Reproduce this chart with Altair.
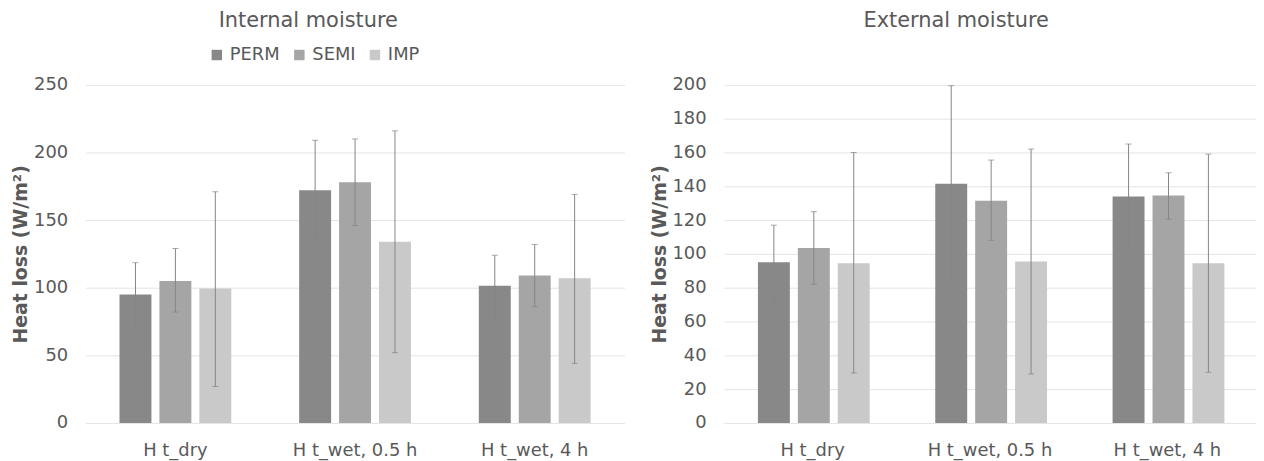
import altair as alt
import pandas as pd

categories = ["H t_dry", "H t_wet, 0.5 h", "H t_wet, 4 h"]
series = ["PERM", "SEMI", "IMP"]
colors = ["#888888", "#a5a5a5", "#c9c9c9"]

# Internal moisture (per category: PERM, SEMI, IMP)
int_mean = [[95, 105, 99.5], [172, 178, 134], [101.5, 109, 107]]
int_lo = [[72, 82, 27], [137, 146, 52], [78, 86, 44]]
int_hi = [[118.5, 129, 171], [209, 210, 216], [124, 132, 169]]

# External moisture
ext_mean = [[95, 103.5, 94.5], [141.5, 131.5, 95.5], [134, 134.5, 94.5]]
ext_lo = [[72, 82, 29.5], [84, 108, 29], [102.5, 120.5, 30]]
ext_hi = [[117, 125, 160], [199.5, 155.5, 162], [165, 148, 159]]

int_ticks = [0, 50, 100, 150, 200, 250]
ext_ticks = [0, 20, 40, 60, 80, 100, 120, 140, 160, 180, 200]

FONT = "DejaVu Sans"
TXT = "#595959"


def make_df(mean, lo, hi):
    rows = []
    for i, c in enumerate(categories):
        for j, s in enumerate(series):
            rows.append({"cat": c, "series": s, "mean": mean[i][j],
                         "lo": lo[i][j], "hi": hi[i][j]})
    return pd.DataFrame(rows)


def panel(df, title, ticks, width, title_dx, legend_x):
    ymax = ticks[-1]
    x = alt.X("cat:N", sort=categories,
              scale=alt.Scale(paddingInner=0, paddingOuter=0),
              axis=alt.Axis(title=None, domain=False, ticks=False, grid=False,
                            labelAngle=0, labelPadding=19, labelFontSize=18,
                            labelColor=TXT, labelFont=FONT))
    xo = alt.XOffset("series:N", sort=series,
                     scale=alt.Scale(paddingInner=0.2, paddingOuter=0.85))
    yscale = alt.Scale(domain=[0, ymax])
    yaxis = alt.Axis(values=ticks, grid=True, gridColor="#e4e4e4", domain=False,
                     ticks=False, labelPadding=18, labelFontSize=18,
                     labelColor=TXT, labelFont=FONT, labelOverlap=False,
                     title="Heat loss (W/m²)", titleFontSize=19,
                     titleFontWeight="bold", titleColor=TXT, titleFont=FONT,
                     titleX=-65, titleY=170, titleAngle=270,
                     titleAlign="center", titleBaseline="middle")
    base = alt.Chart(df)
    bars = base.mark_bar().encode(
        x=x, xOffset=xo,
        y=alt.Y("mean:Q", scale=yscale, axis=yaxis),
        color=alt.Color("series:N", sort=series,
                        scale=alt.Scale(domain=series, range=colors),
                        legend=alt.Legend(title=None, orient="none",
                                          direction="horizontal",
                                          legendX=legend_x, legendY=-39,
                                          symbolType="square", symbolSize=110,
                                          symbolStrokeWidth=0,
                                          labelFontSize=18, labelColor=TXT,
                                          labelFont=FONT, labelOffset=4,
                                          columnPadding=10, padding=0)),
    )
    rules = base.mark_rule(color="#858585", strokeWidth=1).encode(
        x=x, xOffset=xo, y=alt.Y("lo:Q", scale=yscale, axis=yaxis), y2="hi:Q")
    cap_hi = base.mark_tick(color="#858585", size=6, thickness=1).encode(
        x=x, xOffset=xo, y=alt.Y("hi:Q", scale=yscale, axis=yaxis))
    cap_lo = base.mark_tick(color="#858585", size=6, thickness=1).encode(
        x=x, xOffset=xo, y=alt.Y("lo:Q", scale=yscale, axis=yaxis))
    return alt.layer(bars, rules, cap_hi, cap_lo).properties(
        width=width, height=340,
        title=alt.TitleParams(title, fontSize=21, font=FONT, color=TXT,
                              fontWeight="normal", anchor="middle",
                              frame="group", baseline="alphabetic",
                              offset=28, dx=title_dx))


left = panel(make_df(int_mean, int_lo, int_hi), "Internal moisture",
             int_ticks, 542, -47, 123)
right = panel(make_df(ext_mean, ext_lo, ext_hi), "External moisture",
              ext_ticks, 535, -34, 124)

chart = alt.hconcat(left, right, spacing=100, bounds="flush").properties(
    padding={"left": 4, "top": 1, "right": 0, "bottom": 3}
).configure(background="white", view=alt.ViewConfig(stroke=None))

chart.save("out.html", embed_options={"renderer": "svg", "actions": False})
